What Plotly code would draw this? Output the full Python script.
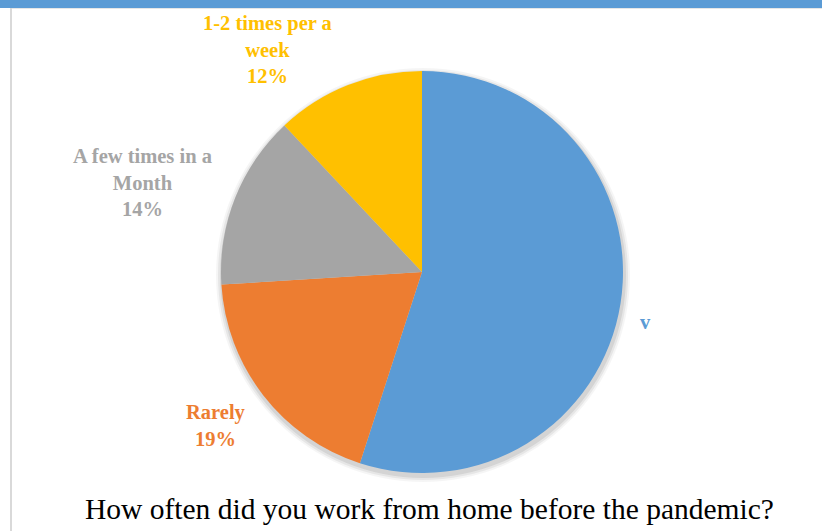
import plotly.graph_objects as go

labels = ["v", "Rarely", "A few times in a Month", "1-2 times per a week"]
label_lines = [["v"], ["Rarely"], ["A few times in a", "Month"], ["1-2 times per a", "week"]]
values = [55, 19, 14, 12]
show_pct = [False, True, True, True]
colors = ["#5B9BD5", "#ED7D31", "#A5A5A5", "#FFC000"]
title = "How often did you work from home before the pandemic?"

W, H = 822, 531
cx, cy, r = 422, 272, 201


def dom(cxp, cyp, rp):
    return dict(x=[(cxp - rp) / W, (cxp + rp) / W], y=[1 - (cyp + rp) / H, 1 - (cyp - rp) / H])


fig = go.Figure()
# soft drop shadow behind the pie
for k, a in [(6, 0.04), (4, 0.06), (2, 0.08)]:
    fig.add_trace(go.Pie(
        values=[1], labels=["shadow"], sort=False, textinfo="none", hoverinfo="skip",
        marker=dict(colors=[f"rgba(0,0,0,{a})"], line=dict(width=0)), showlegend=False,
        domain=dom(cx + 1, cy + 3, r + k),
    ))
fig.add_trace(go.Pie(
    labels=labels, values=values, sort=False, direction="clockwise", rotation=0,
    marker=dict(colors=colors, line=dict(width=0)),
    textinfo="none", hoverinfo="label+percent", showlegend=False,
    domain=dom(cx, cy, r),
))

# label anchor positions (pixels, center of text block)
label_pos = [(645, 322), (216, 425), (142, 182), (267, 50)]
for i, lab in enumerate(labels):
    lines = list(label_lines[i])
    if show_pct[i]:
        lines.append(f"{values[i]}%")
    x, y = label_pos[i]
    fig.add_annotation(
        x=x / W, y=1 - y / H, xref="paper", yref="paper", showarrow=False,
        text="<br>".join(f"<b>{ln}</b>" for ln in lines), align="center",
        xanchor="center", yanchor="middle",
        font=dict(family="Liberation Serif", size=20.5, color=colors[i]),
    )

fig.add_annotation(
    x=429 / W, y=1 - 509 / H, xref="paper", yref="paper", showarrow=False,
    text=title, xanchor="center", yanchor="middle",
    font=dict(family="Liberation Serif", size=29.5, color="black"),
)

shapes = [
    dict(type="rect", xref="paper", yref="paper", x0=0, x1=1, y0=1 - 8 / H, y1=1,
         fillcolor="#5B9BD5", line=dict(width=0), layer="above"),
    dict(type="line", xref="paper", yref="paper", x0=11 / W, x1=1, y0=1 - 8.5 / H, y1=1 - 8.5 / H,
         line=dict(color="#E6E6E6", width=1)),
    dict(type="line", xref="paper", yref="paper", x0=11 / W, x1=11 / W, y0=0, y1=1 - 8 / H,
         line=dict(color="#D9D9D9", width=2)),
]

fig.update_layout(
    width=W, height=H, margin=dict(l=0, r=0, t=0, b=0),
    paper_bgcolor="white", plot_bgcolor="white", shapes=shapes,
)
fig.write_html("out.html")
